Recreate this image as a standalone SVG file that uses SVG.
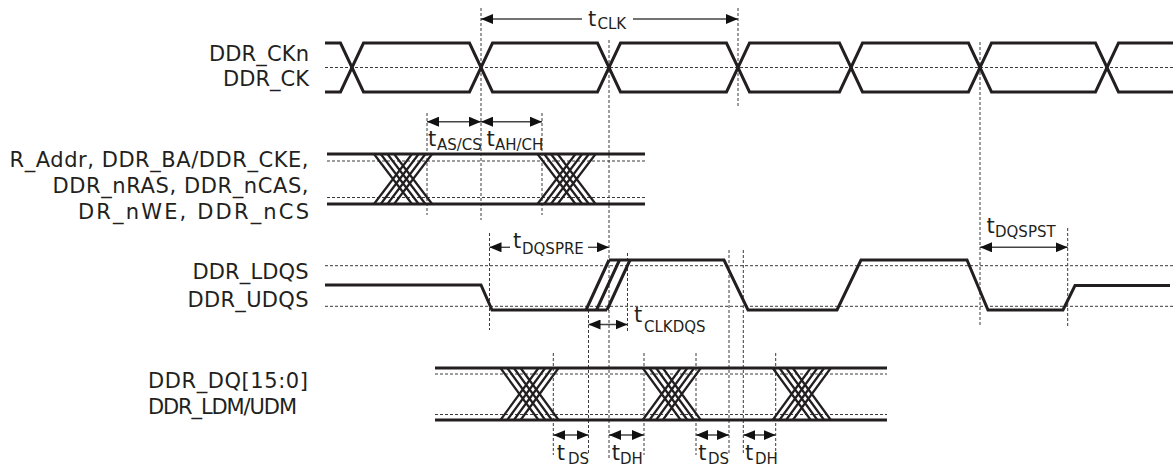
<svg xmlns="http://www.w3.org/2000/svg" width="1173" height="468" viewBox="0 0 1173 468">
<style>
.bg{fill:#ffffff}
.wave{fill:none;stroke:#231f20;stroke-width:3;stroke-linejoin:miter}
.bus{fill:none;stroke:#231f20;stroke-width:2.2}
.dash{fill:none;stroke:#3a3a3a;stroke-width:1;stroke-dasharray:3 2}
.arr{fill:none;stroke:#444;stroke-width:1.4}
.lbl{font-family:"DejaVu Sans",Verdana,sans-serif;font-size:21px;fill:#231f20}
.sub{font-size:15px}
</style>
<defs>
<marker id="ah" viewBox="0 0 12 10" refX="12" refY="5" markerWidth="12" markerHeight="10" markerUnits="userSpaceOnUse" orient="auto-start-reverse">
<path d="M0,0 L12,5 L0,10 z" fill="#111"/>
</marker>
</defs>
<rect class="bg" x="0" y="0" width="1173" height="468"/>

<g id="guides">
<path class="dash" d="M325,67.5 H1173"/>
<path class="dash" d="M327,161 H645 M327,197.5 H645"/>
<path class="dash" d="M325,265.7 H1173 M325,306.3 H1173"/>
<path class="dash" d="M435,374 H887 M435,414.5 H887"/>
<path class="dash" d="M481,8 V220 M609,40 V460 M738,8 V108 M980,42 V327"/>
<path class="dash" d="M427,113 V215 M542,113 V215"/>
<path class="dash" d="M489.5,233 V330 M588.5,310 V455 M627.5,253 V332 M1067.7,228 V327"/>
<path class="dash" d="M553.3,353 V455 M644,353 V455 M696,353 V455 M729,250 V455 M743.3,250 V455 M775.7,353 V455"/>
</g>

<g id="clk">
<text class="lbl" x="309" y="61" text-anchor="end" textLength="100">DDR_CKn</text>
<text class="lbl" x="309" y="86" text-anchor="end" textLength="86">DDR_CK</text>
<path class="wave" d="M325,43 L340.5,43 L363.5,92 L469.5,92 L492.5,43 L597.5,43 L620.5,92 L726.5,92 L749.5,43 L839.5,43 L862.5,92 L968.5,92 L991.5,43 L1095.5,43 L1118.5,92 L1173,92"/>
<path class="wave" d="M325,92 L340.5,92 L363.5,43 L469.5,43 L492.5,92 L597.5,92 L620.5,43 L726.5,43 L749.5,92 L839.5,92 L862.5,43 L968.5,43 L991.5,92 L1095.5,92 L1118.5,43 L1173,43"/>
</g>

<g id="addr">
<text class="lbl" x="308.5" y="167.3" text-anchor="end" textLength="299">R_Addr, DDR_BA/DDR_CKE,</text>
<text class="lbl" x="308.5" y="193" text-anchor="end" textLength="256">DDR_nRAS, DDR_nCAS,</text>
<text class="lbl" x="309" y="218.5" text-anchor="end" textLength="231">DR_nWE, DDR_nCS</text>
<path class="wave" d="M327,154 H645 M327,204 H645"/>
<path class="bus" d="M374,154 L412,204 M374,204 L412,154 M380.7,154 L418.7,204 M380.7,204 L418.7,154 M387.4,154 L425.4,204 M387.4,204 L425.4,154 M394.1,154 L432.1,204 M394.1,204 L432.1,154"/>
<path class="bus" d="M537.5,154 L575.5,204 M537.5,204 L575.5,154 M544.2,154 L582.2,204 M544.2,204 L582.2,154 M550.9,154 L588.9,204 M550.9,204 L588.9,154 M557.6,154 L595.6,204 M557.6,204 L595.6,154"/>
</g>

<g id="dqs">
<text class="lbl" x="308.5" y="278.5" text-anchor="end" textLength="116">DDR_LDQS</text>
<text class="lbl" x="308.5" y="306.5" text-anchor="end" textLength="121">DDR_UDQS</text>
<path class="wave" d="M325,285 L481,285 L492,310 L607,310"/>
<path class="wave" d="M586,310 L609,260 M596.5,310 L619.5,260 M607,310 L630,260"/>
<path class="wave" d="M609,260 L724,260 L748,310 L837,310 L861,260 L967,260 L988,310 L1063,310 L1075,285.5 L1170,285.5"/>
</g>

<g id="dq">
<text class="lbl" x="148" y="388" textLength="160">DDR_DQ[15:0]</text>
<text class="lbl" x="148" y="414" textLength="149">DDR_LDM/UDM</text>
<path class="wave" d="M435,368 H887 M435,420 H887"/>
<path class="bus" d="M500.5,368 L538.5,420 M500.5,420 L538.5,368 M507.2,368 L545.2,420 M507.2,420 L545.2,368 M513.9,368 L551.9,420 M513.9,420 L551.9,368 M520.6,368 L558.6,420 M520.6,420 L558.6,368"/>
<path class="bus" d="M642.7,368 L680.7,420 M642.7,420 L680.7,368 M649.4,368 L687.4,420 M649.4,420 L687.4,368 M656.1,368 L694.1,420 M656.1,420 L694.1,368 M662.8,368 L700.8,420 M662.8,420 L700.8,368"/>
<path class="bus" d="M772.7,368 L810.7,420 M772.7,420 L810.7,368 M779.4,368 L817.4,420 M779.4,420 L817.4,368 M786.1,368 L824.1,420 M786.1,420 L824.1,368 M792.8,368 L830.8,420 M792.8,420 L830.8,368"/>
</g>

<g id="connectors">
<path class="arr" d="M582,19 H481" marker-end="url(#ah)"/>
<path class="arr" d="M633,19 H738" marker-end="url(#ah)"/>
<path class="arr" d="M427,121.7 H481" marker-start="url(#ah)" marker-end="url(#ah)"/>
<path class="arr" d="M481,121.7 H542" marker-start="url(#ah)" marker-end="url(#ah)"/>
<path class="arr" d="M510,247.3 H489.5" marker-end="url(#ah)"/>
<path class="arr" d="M588,247.3 H609" marker-end="url(#ah)"/>
<path class="arr" d="M980,247.3 H1067.7" marker-start="url(#ah)" marker-end="url(#ah)"/>
<path class="arr" d="M588.5,324.5 H627.5" marker-start="url(#ah)" marker-end="url(#ah)"/>
<path class="arr" d="M553.3,435 H588.5" marker-start="url(#ah)" marker-end="url(#ah)"/>
<path class="arr" d="M609,435 H644" marker-start="url(#ah)" marker-end="url(#ah)"/>
<path class="arr" d="M696,435 H729" marker-start="url(#ah)" marker-end="url(#ah)"/>
<path class="arr" d="M743.3,435 H775.7" marker-start="url(#ah)" marker-end="url(#ah)"/>
</g>

<g id="timing-labels">
<text class="lbl" x="588" y="26">t<tspan class="sub" x="597.5" y="29">CLK</tspan></text>
<text class="lbl" x="428" y="146">t<tspan class="sub" x="437" y="150" font-size="13">AS/CS</tspan></text>
<text class="lbl" x="486.5" y="146">t<tspan class="sub" x="495" y="150" font-size="13">AH/CH</tspan></text>
<text class="lbl" x="513" y="248.3">t<tspan class="sub" x="522" y="254">DQSPRE</tspan></text>
<text class="lbl" x="634" y="322">t<tspan class="sub" x="644" y="332">CLKDQS</tspan></text>
<text class="lbl" x="986.5" y="233.3">t<tspan class="sub" x="995" y="237">DQSPST</tspan></text>
<text class="lbl" x="556.7" y="460">t<tspan class="sub" x="568" y="464.3" font-size="14.5">DS</tspan></text>
<text class="lbl" x="611.7" y="460">t<tspan class="sub" x="620" y="464.3" font-size="14.5">DH</tspan></text>
<text class="lbl" x="698.3" y="460">t<tspan class="sub" x="708" y="464.3" font-size="14.5">DS</tspan></text>
<text class="lbl" x="745" y="460">t<tspan class="sub" x="755" y="464.3" font-size="14.5">DH</tspan></text>
</g>
</svg>
